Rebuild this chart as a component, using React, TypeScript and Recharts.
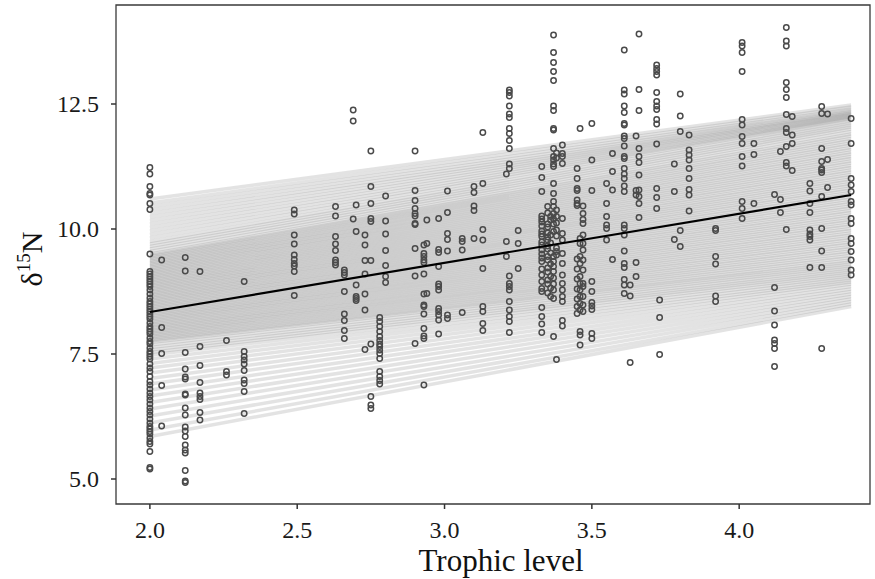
import React from 'react';
import { ScatterChart, Scatter, XAxis, YAxis, ReferenceArea } from 'recharts';

// trophic level of each sampled column, and the d15N values measured there
const trophicLevels = [
  2.0, 2.04, 2.12, 2.17, 2.26, 2.32, 2.49, 2.63, 2.66, 2.69, 2.7, 2.73, 2.75, 2.78, 2.8,
  2.9, 2.93, 2.94, 2.98, 3.01, 3.06, 3.1, 3.13, 3.21, 3.22, 3.25, 3.33, 3.35, 3.36, 3.37,
  3.38, 3.4, 3.45, 3.46, 3.47, 3.5, 3.55, 3.57, 3.61, 3.63, 3.65, 3.66, 3.72, 3.73, 3.78,
  3.8, 3.83, 3.92, 4.01, 4.05, 4.12, 4.14, 4.16, 4.18, 4.24, 4.28, 4.3, 4.38,
];

const d15N = [
  [11.23, 11.1, 10.85, 10.71, 10.68, 10.51, 10.39, 9.5, 9.15, 9.1, 9.05, 9.0, 8.95, 8.9, 8.85, 8.78, 8.7, 8.62, 8.55, 8.5, 8.45, 8.4, 8.35, 8.3, 8.25, 8.2, 8.12, 8.05, 8.0, 7.95, 7.9, 7.82, 7.75, 7.7, 7.62, 7.55, 7.5, 7.45, 7.4, 7.3, 7.22, 7.15, 7.05, 6.95, 6.88, 6.8, 6.72, 6.65, 6.58, 6.5, 6.42, 6.35, 6.28, 6.2, 6.12, 6.05, 6.0, 5.95, 5.9, 5.82, 5.75, 5.7, 5.55, 5.23, 5.2],
  [9.38, 8.03, 7.51, 6.87, 6.06],
  [9.43, 9.16, 7.53, 7.2, 7.04, 7.0, 6.7, 6.68, 6.42, 6.28, 6.04, 5.96, 5.85, 5.68, 5.58, 5.52, 5.17, 4.96, 4.93],
  [9.15, 7.65, 7.27, 6.93, 6.72, 6.65, 6.59, 6.33, 6.18],
  [7.77, 7.15, 7.08],
  [8.95, 7.55, 7.45, 7.38, 7.3, 7.17, 6.98, 6.91, 6.75, 6.31],
  [10.38, 10.3, 9.88, 9.7, 9.48, 9.39, 9.31, 9.26, 9.15, 8.67],
  [10.45, 10.26, 9.85, 9.7, 9.57, 9.38, 9.33, 9.28],
  [9.18, 9.13, 9.08, 8.75, 8.3, 8.17, 7.97, 7.81],
  [12.38, 12.16, 10.2],
  [10.48, 9.95, 8.88, 8.65, 8.61, 8.57],
  [9.88, 9.68, 9.37, 9.1, 8.7, 8.38, 7.59],
  [11.56, 10.85, 10.51, 10.21, 10.15, 9.37, 7.7, 6.65, 6.48, 6.41],
  [8.23, 8.15, 8.05, 7.95, 7.85, 7.77, 7.7, 7.65, 7.58, 7.51, 7.41, 7.15, 7.05, 6.97, 6.9],
  [10.66, 10.16, 9.9, 9.57, 9.27, 9.05, 8.93],
  [11.56, 10.77, 10.57, 10.41, 10.31, 10.26, 10.11, 10.09, 9.61, 9.06, 7.71],
  [9.68, 9.51, 9.45, 9.38, 9.33, 9.1, 8.7, 8.48, 8.45, 8.3, 8.01, 7.86, 7.81, 6.88],
  [10.18, 9.71, 8.71],
  [10.21, 9.59, 9.53, 9.25, 8.9, 8.85, 8.78, 8.41, 8.35, 8.28, 8.18, 7.9],
  [10.76, 10.33, 9.91, 9.79, 9.56, 8.28, 8.21],
  [9.81, 9.75, 9.58, 8.33],
  [10.85, 10.73, 10.46, 10.37, 9.81],
  [11.93, 10.91, 9.99, 9.78, 9.21, 8.45, 8.35, 8.11, 7.97],
  [11.1, 9.75, 9.45],
  [12.78, 12.73, 12.66, 12.46, 12.3, 12.23, 12.01, 11.91, 11.77, 11.61, 11.3, 11.21, 9.06, 8.91, 8.85, 8.78, 8.55, 8.38, 8.25, 8.15, 7.93],
  [9.97, 9.71, 9.21],
  [11.25, 11.03, 10.75, 10.26, 10.2, 10.14, 10.06, 9.96, 9.9, 9.85, 9.74, 9.68, 9.58, 9.5, 9.42, 9.35, 9.2, 9.08, 8.95, 8.81, 8.75, 8.43, 8.25, 8.1, 7.93],
  [10.45, 10.32, 10.1, 10.04, 9.92, 9.84, 9.78, 9.66, 9.6, 9.45, 9.38, 9.22, 9.14, 8.98, 8.9, 8.72],
  [10.25, 10.18, 9.88, 9.72, 9.52, 9.3, 9.05, 8.82, 8.65],
  [13.88, 13.53, 13.33, 13.15, 12.97, 12.46, 12.37, 12.01, 11.98, 11.61, 11.45, 11.38, 11.3, 11.25, 10.91, 10.71, 10.55, 10.45, 10.31, 10.2, 10.1, 9.95, 9.45, 9.35, 9.25, 9.15, 9.02, 8.9, 8.78, 8.61, 7.85],
  [11.52, 11.42, 10.38, 10.25, 10.12, 9.98, 9.86, 9.62, 9.55, 9.48, 7.39],
  [11.68, 11.51, 11.45, 11.31, 10.21, 9.91, 9.78, 9.51, 9.31, 9.08, 8.91, 8.78, 8.65, 8.55, 8.17, 8.06],
  [11.21, 11.01, 10.81, 10.77, 10.58, 10.51, 10.47, 9.4, 9.2, 9.0, 8.8, 8.6, 8.45, 8.31],
  [12.01, 9.81, 9.71, 9.45, 9.31, 9.05, 8.91, 8.78, 8.65, 8.51, 8.38, 7.95, 7.88, 7.68],
  [10.46, 10.31, 10.19, 10.11, 9.88, 9.71, 9.58, 9.38, 9.18, 8.91, 8.85, 8.65, 8.48, 8.35],
  [12.11, 11.38, 10.77, 8.95, 8.75, 8.53, 8.46, 8.39, 7.91, 7.81],
  [10.91, 10.51, 10.25, 10.08, 10.01, 9.78],
  [11.51, 11.15, 10.78, 9.39],
  [13.58, 12.78, 12.7, 12.46, 12.33, 12.11, 12.08, 11.86, 11.81, 11.66, 11.45, 11.41, 11.21, 11.1, 11.01, 10.86, 10.75, 10.08, 10.01, 9.88, 9.56, 9.31, 9.23, 8.99, 8.88, 8.71],
  [8.88, 8.66, 7.33],
  [11.86, 10.77, 10.68, 9.33, 9.05],
  [13.9, 12.79, 12.37, 11.61, 11.45, 11.33, 11.08, 10.78, 10.65, 10.51, 10.23],
  [13.28, 13.21, 13.15, 13.08, 12.73, 12.55, 12.46, 12.39, 12.19, 12.1, 11.7, 10.81, 10.63, 10.41],
  [8.58, 8.23, 7.49],
  [11.3, 10.75, 9.79],
  [12.7, 12.26, 11.95, 9.97, 9.65],
  [11.88, 11.58, 11.48, 11.38, 11.21, 11.01, 10.79, 10.68, 10.36],
  [10.01, 9.97, 9.45, 9.3, 8.66, 8.55],
  [13.73, 13.66, 13.53, 13.15, 12.19, 12.08, 11.85, 11.71, 11.45, 11.26, 10.55, 10.41, 10.21],
  [11.71, 11.49, 10.51],
  [10.69, 8.83, 8.36, 8.08, 7.78, 7.71, 7.61, 7.25],
  [11.55, 10.59, 10.33],
  [14.03, 13.76, 13.66, 12.93, 12.79, 12.63, 12.29, 12.01, 11.93, 11.65, 11.33, 11.26, 9.99],
  [12.25, 11.88, 11.71, 11.17],
  [10.91, 10.76, 10.51, 10.33, 9.98, 9.9, 9.85, 9.78, 9.23],
  [12.45, 12.31, 11.61, 11.35, 11.21, 11.18, 11.13, 10.65, 10.01, 9.56, 9.23, 7.61],
  [12.3, 11.39, 10.83],
  [12.21, 11.71, 11.01, 10.88, 10.75, 10.55, 10.48, 10.21, 10.11, 9.81, 9.71, 9.55, 9.38, 9.18, 9.08],
];

// posterior regression draws: value at the first and last trophic level
const drawX = [2.0, 4.38];
const drawStart = [
  5.85, 5.98, 6.12, 6.26, 6.4, 6.53, 6.66, 6.78, 6.9, 7.01, 7.12, 7.22, 7.31, 7.4, 7.48,
  7.53, 7.58, 7.63, 7.68, 7.73,
  7.76, 7.79, 7.82, 7.85, 7.88, 7.91, 7.94, 7.97, 8.0, 8.03, 8.06, 8.09, 8.12, 8.15, 8.18,
  8.21, 8.24, 8.27, 8.3, 8.33, 8.36, 8.39, 8.42, 8.45, 8.48, 8.51, 8.54, 8.57, 8.6, 8.63,
  8.66, 8.69, 8.72, 8.75, 8.78, 8.81, 8.84, 8.87, 8.9, 8.93, 8.96, 8.99, 9.02, 9.05, 9.08,
  9.11, 9.14, 9.17, 9.2, 9.23, 9.26, 9.29, 9.32, 9.35, 9.38, 9.41, 9.44, 9.47, 9.5,
  9.55, 9.6, 9.65, 9.7, 9.75,
  9.82, 9.89, 9.96, 10.03, 10.1, 10.17, 10.24, 10.31, 10.38, 10.45, 10.52, 10.6,
];
const drawEnd = [
  8.45, 8.5, 8.55, 8.6, 8.65, 8.7, 8.75, 8.8, 8.85, 8.9, 8.94, 8.98, 9.02, 9.06, 9.1,
  9.14, 9.18, 9.22, 9.26, 9.3,
  9.34, 9.38, 9.43, 9.47, 9.52, 9.56, 9.61, 9.65, 9.7, 9.74, 9.79, 9.83, 9.88, 9.92, 9.97,
  10.01, 10.06, 10.1, 10.15, 10.19, 10.24, 10.28, 10.33, 10.37, 10.42, 10.46, 10.51, 10.55, 10.6, 10.64,
  10.69, 10.73, 10.78, 10.82, 10.87, 10.91, 10.96, 11.0, 11.05, 11.09, 11.14, 11.18, 11.23, 11.27, 11.32,
  11.36, 11.41, 11.45, 11.5, 11.54, 11.59, 11.63, 11.68, 11.72, 11.77, 11.81, 11.86, 11.9, 11.95,
  12.0, 12.04, 12.08, 12.12, 12.16,
  12.2, 12.22, 12.24, 12.26, 12.28, 12.3, 12.32, 12.34, 12.37, 12.4, 12.44, 12.48,
];

// mean fit
const meanY = [8.34, 10.68];

const xTicks = [2.0, 2.5, 3.0, 3.5, 4.0];
const yTicks = [5.0, 7.5, 10.0, 12.5];

const X_DOMAIN: [number, number] = [1.885, 4.444];
const Y_DOMAIN: [number, number] = [4.5, 14.48];
const FONT = '"Liberation Serif", "Times New Roman", serif';

const points = trophicLevels.flatMap((x, i) => d15N[i].map((y) => ({ x, y })));
const draws = drawStart.map((s, i) => [
  { x: drawX[0], y: s },
  { x: drawX[1], y: drawEnd[i] },
]);
const meanLine = drawX.map((x, i) => ({ x, y: meanY[i] }));

const NoDot = () => null;

const OpenCircle = (props: any) => {
  const { cx, cy } = props;
  if (cx == null || cy == null) return null;
  return <circle cx={cx} cy={cy} r={2.7} fill="none" stroke="#4a4a4a" strokeWidth={1.5} />;
};

const XTick = ({ x, y, payload }: any) => (
  <text x={x} y={y} dy="0.71em" textAnchor="middle" fontFamily={FONT} fontSize={24} fill="#1a1a1a">
    {Number(payload.value).toFixed(1)}
  </text>
);

const YTick = ({ x, y, payload }: any) => (
  <text x={x} y={y} dy="0.34em" textAnchor="end" fontFamily={FONT} fontSize={24} fill="#1a1a1a">
    {Number(payload.value).toFixed(1)}
  </text>
);

const YLabel = () => {
  const cx = 42;
  const cy = 259;
  return (
    <text
      x={cx}
      y={cy}
      transform={`rotate(-90, ${cx}, ${cy})`}
      textAnchor="middle"
      fontFamily={FONT}
      fontSize={30}
      fill="#111"
    >
      δ
      <tspan fontSize={19} dy={-12}>15</tspan>
      <tspan dy={12}>N</tspan>
    </text>
  );
};

const XLabel = () => (
  <text x={501} y={571} textAnchor="middle" fontFamily={FONT} fontSize={31} fill="#111">
    Trophic level
  </text>
);

export default function App() {
  return (
    <div style={{ position: 'absolute', left: 0, top: 0, background: '#fff', fontFamily: FONT }}>
      <ScatterChart width={875} height={579} margin={{ top: 5, right: 5, left: 0, bottom: 0 }}>
        <XAxis
          type="number"
          dataKey="x"
          domain={X_DOMAIN}
          allowDataOverflow
          ticks={xTicks}
          height={75}
          axisLine={false}
          tickLine={{ stroke: '#333', strokeWidth: 1.5 }}
          tickSize={5}
          tickMargin={12}
          tick={<XTick />}
          label={{ content: <XLabel /> }}
        />
        <YAxis
          type="number"
          dataKey="y"
          domain={Y_DOMAIN}
          allowDataOverflow
          ticks={yTicks}
          width={116}
          axisLine={false}
          tickLine={{ stroke: '#333', strokeWidth: 1.5 }}
          tickSize={5}
          tickMargin={12}
          tick={<YTick />}
          label={{ content: <YLabel /> }}
        />
        {draws.map((d, i) => (
          <Scatter
            key={`draw-${i}`}
            data={d}
            line={{ stroke: '#858585', strokeWidth: 3.5, strokeOpacity: 0.23 }}
            shape={NoDot}
            isAnimationActive={false}
          />
        ))}
        <Scatter data={points} shape={OpenCircle} isAnimationActive={false} />
        <Scatter
          data={meanLine}
          line={{ stroke: '#000', strokeWidth: 2.2 }}
          shape={NoDot}
          isAnimationActive={false}
        />
        <ReferenceArea
          x1={X_DOMAIN[0]}
          x2={X_DOMAIN[1]}
          y1={Y_DOMAIN[0]}
          y2={Y_DOMAIN[1]}
          fill="none"
          stroke="#3a3a3a"
          strokeWidth={1.3}
          ifOverflow="visible"
        />
      </ScatterChart>
    </div>
  );
}
